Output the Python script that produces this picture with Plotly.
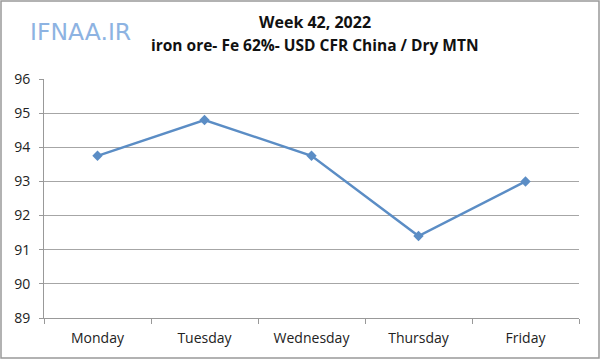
import plotly.graph_objects as go

days = ["Monday", "Tuesday", "Wednesday", "Thursday", "Friday"]
prices = [93.75, 94.8, 93.75, 91.4, 93.0]
y_ticks = [89, 90, 91, 92, 93, 94, 95, 96]

W, H = 600, 359
L, R, T, B = 44, 21, 79, 41
pw, ph = W - L - R, H - T - B

def px(x):
    return (x - L) / pw

def py(y):
    return (H - y - B) / ph

fig = go.Figure()
fig.add_trace(go.Scatter(
    x=days, y=prices, mode="lines+markers",
    line=dict(color="#5B8DC5", width=2.5),
    marker=dict(symbol="diamond", size=8, color="#5B8DC5"),
    hoverinfo="skip", showlegend=False,
))

font = "Open Sans, Liberation Sans, sans-serif"
fig.update_layout(
    width=W, height=H,
    margin=dict(l=L, r=R, t=T, b=B),
    paper_bgcolor="white", plot_bgcolor="white",
    font=dict(family=font, size=14, color="#222"),
    xaxis=dict(
        type="category", range=[-0.5, 4.5], automargin=False,
        showgrid=False, showline=True, linecolor="#999", linewidth=1,
        ticks="outside", tickson="boundaries", ticklen=5, tickcolor="#999",
        tickfont=dict(size=14, color="#222"), fixedrange=True,
        ticklabelstandoff=7,
    ),
    yaxis=dict(
        range=[89, 96], tickvals=y_ticks, showgrid=True, gridcolor="#A6A6A6",
        gridwidth=1, showline=True, linecolor="#999", linewidth=1, automargin=False,
        ticks="outside", ticklen=4, tickcolor="#999", zeroline=False,
        tickfont=dict(size=14, color="#222"), fixedrange=True,
        ticklabelstandoff=6,
    ),
    annotations=[
        dict(text="<b>Week 42, 2022</b>", xref="paper", yref="paper",
             x=px(315), y=py(22), showarrow=False,
             xanchor="center", yanchor="middle",
             font=dict(size=16, color="#111", family=font)),
        dict(text="<b>iron ore- Fe 62%- USD CFR China / Dry MTN</b>", xref="paper", yref="paper",
             x=px(315), y=py(45), showarrow=False,
             xanchor="center", yanchor="middle",
             font=dict(size=15.5, color="#111", family=font)),
        dict(text="IFNAA.IR", xref="paper", yref="paper",
             x=px(80), y=py(32), showarrow=False,
             xanchor="center", yanchor="middle",
             font=dict(size=23.5, color="#8DB3E2", family="DejaVu Sans, sans-serif")),
    ],
    shapes=[
        dict(type="rect", xref="paper", yref="paper",
             x0=px(1), x1=px(W - 1), y0=py(H - 1), y1=py(1),
             line=dict(color="#999", width=1.5), layer="below"),
    ],
)

fig.write_html("out.html", config={"displayModeBar": False, "staticPlot": True},
               post_script="document.body.style.margin='0';")
